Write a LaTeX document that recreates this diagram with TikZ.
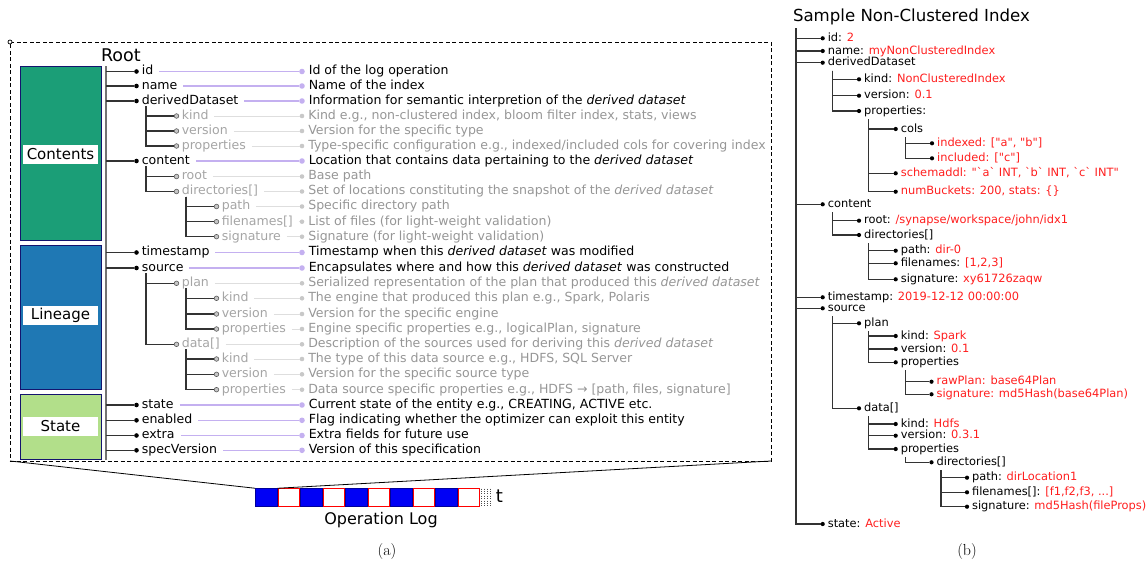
\documentclass[tikz,border=0pt]{standalone}
\usepackage{fontspec}
\newfontfamily\vfont{DejaVu Sans}
\usetikzlibrary{positioning}

\definecolor{contentsgreen}{RGB}{27,158,119}
\definecolor{lineageblue}{RGB}{31,120,180}
\definecolor{stategreen}{RGB}{178,223,138}
\definecolor{boxnavy}{RGB}{20,20,110}
\definecolor{lilac}{RGB}{196,176,240}
\definecolor{keygray}{RGB}{165,165,165}
\definecolor{descgray}{RGB}{150,150,150}
\definecolor{pingray}{RGB}{200,200,200}
\definecolor{linkgray}{RGB}{222,222,222}
\definecolor{valred}{RGB}{255,30,30}
\definecolor{logblue}{RGB}{0,0,245}

% one row of the schema: style prefix (top/sub), name, x, y, key, description
\newcommand{\keyrow}[6]{%
  \node[#1dot] (#2) at (#3,#4) {};
  \node[#1key, right=1pt of #2] (#2-k) {#5};
  \node[#1pin] (#2-p) at (302,#4) {};
  \node[#1desc, right=2pt of #2-p] (#2-t) {#6};
  \draw[#1link] ([xshift=4pt]#2-k.east) -- (#2-p);
}
% one row of the sample: name, x, y, key, value
\newcommand{\valrow}[5]{%
  \node[sdot] (#1) at (#2,#3) {};
  \node[skey, right=1pt of #1] (#1-k) {#4\textcolor{valred}{#5}};
}
% parent -> child elbow
\newcommand{\tbranch}[3]{\draw[treeline] ([xshift=9.5pt,yshift=#3]#1.center) |- (#2);}

\begin{document}
\begin{tikzpicture}[x=1pt, y=-1pt,
    topdot/.style={circle, fill=black, inner sep=0pt, minimum size=4.6pt},
    subdot/.style={circle, fill=gray!45, draw=black!65, line width=0.6pt, inner sep=0pt, minimum size=4.6pt},
    toppin/.style={circle, fill=lilac, inner sep=0pt, minimum size=5.6pt},
    subpin/.style={circle, fill=pingray, inner sep=0pt, minimum size=4.6pt},
    topkey/.style={font=\vfont\fontsize{12.55pt}{14pt}\selectfont, text height=6.8pt, text depth=0pt, inner sep=2pt},
    subkey/.style={topkey, text=keygray},
    topdesc/.style={topkey},
    subdesc/.style={topkey, text=descgray},
    toplink/.style={lilac, line width=1.2pt},
    sublink/.style={linkgray, line width=1pt},
    treeline/.style={black!80, line width=1.2pt},
    trunkline/.style={black!55, line width=2pt},
    sdot/.style={circle, fill=black, inner sep=0pt, minimum size=4.2pt},
    skey/.style={font=\vfont\fontsize{11.4pt}{13pt}\selectfont, text height=6.2pt, text depth=0pt, inner sep=2pt},
    secbox/.style={draw=boxnavy, line width=1pt, minimum width=81pt, inner sep=0pt},
    seclabel/.style={fill=white, minimum width=75pt, minimum height=19pt, inner sep=0pt, font=\vfont\fontsize{15pt}{17pt}\selectfont},
    logused/.style={fill=logblue, draw=blue!60!black, line width=0.6pt, minimum width=22.5pt, minimum height=18.5pt, inner sep=0pt},
    logfree/.style={fill=white, draw=red, line width=1pt, minimum width=21.5pt, minimum height=17.5pt, inner sep=0pt}]
  \tikzstyle{every node}+=[outer sep=0pt]
  \useasboundingbox (0,0) rectangle (1148,565);

  % (a) log entry
  \node[draw, dash pattern=on 4pt off 2.5pt, line width=0.8pt, minimum width=761pt, minimum height=419pt, inner sep=0pt] (entry) at (390.5,251.5) {};
  \node[circle, draw, fill=white, inner sep=0pt, minimum size=4pt, line width=0.7pt] (corner) at (entry.north west) {};
  \node[anchor=west, font=\vfont\fontsize{17.5pt}{20pt}\selectfont, inner sep=2pt] (root) at (99,55) {Root};

  \node[secbox, fill=contentsgreen, minimum height=174pt] (contents) at (60.5,153.7) {};
  \node[secbox, fill=lineageblue, minimum height=144pt] (lineage) at (60.5,317) {};
  \node[secbox, fill=stategreen, minimum height=65pt] (state) at (60.5,426.5) {};
  \node[seclabel] (contents-l) at (60.5,154.5) {Contents};
  \node[seclabel] (lineage-l) at (60.5,315.5) {Lineage};
  \node[seclabel] (state-l) at (60.5,426) {State};

  \keyrow{top}{id}{136.5}{71.5}{id}{Id of the log operation}
  \keyrow{top}{name}{136.5}{86}{name}{Name of the index}
  \keyrow{top}{dd}{136.5}{101}{derivedDataset}{Information for semantic interpretion of the \textit{derived dataset}}
  \keyrow{sub}{ddkind}{176.5}{116}{kind}{Kind e.g., non-clustered index, bloom filter index, stats, views}
  \keyrow{sub}{ddver}{176.5}{131}{version}{Version for the specific type}
  \keyrow{sub}{ddprops}{176.5}{146}{properties}{Type-specific configuration e.g., indexed/included cols for covering index}
  \keyrow{top}{content}{136.5}{161}{content}{Location that contains data pertaining to the \textit{derived dataset}}
  \keyrow{sub}{ctroot}{176.5}{176.5}{root}{Base path}
  \keyrow{sub}{ctdirs}{176.5}{191.5}{directories[]}{Set of locations constituting the snapshot of the \textit{derived dataset}}
  \keyrow{sub}{dirpath}{216.5}{206.5}{path}{Specific directory path}
  \keyrow{sub}{dirfiles}{216.5}{221.7}{filenames[]}{List of files (for light-weight validation)}
  \keyrow{sub}{dirsig}{216.5}{236.7}{signature}{Signature (for light-weight validation)}
  \keyrow{top}{timestamp}{136.5}{252.5}{timestamp}{Timestamp when this \textit{derived dataset} was modified}
  \keyrow{top}{source}{136.5}{268}{source}{Encapsulates where and how this \textit{derived dataset} was constructed}
  \keyrow{sub}{plan}{176.5}{283.3}{plan}{Serialized representation of the plan that produced this \textit{derived dataset}}
  \keyrow{sub}{plankind}{216.5}{298.3}{kind}{The engine that produced this plan e.g., Spark, Polaris}
  \keyrow{sub}{planver}{216.5}{314}{version}{Version for the specific engine}
  \keyrow{sub}{planprops}{216.5}{329}{properties}{Engine specific properties e.g., logicalPlan, signature}
  \keyrow{sub}{data}{176.5}{344.3}{data[]}{Description of the sources used for deriving this \textit{derived dataset}}
  \keyrow{sub}{datakind}{216.5}{359}{kind}{The type of this data source e.g., HDFS, SQL Server}
  \keyrow{sub}{dataver}{216.5}{374.3}{version}{Version for the specific source type}
  \keyrow{sub}{dataprops}{216.5}{389.7}{properties}{Data source specific properties e.g., HDFS → [path, files, signature]}
  \keyrow{top}{state}{136.5}{405}{state}{Current state of the entity e.g., CREATING, ACTIVE etc.}
  \keyrow{top}{enabled}{136.5}{420.3}{enabled}{Flag indicating whether the optimizer can exploit this entity}
  \keyrow{top}{extra}{136.5}{435.5}{extra}{Extra fields for future use}
  \keyrow{top}{specver}{136.5}{450.3}{specVersion}{Version of this specification}

  \coordinate (trunk) at (106,66);
  \draw[trunkline] (trunk) -- (106,460);
  \foreach \n in {id,name,dd,content,timestamp,source,state,enabled,extra,specver}
    \draw[treeline] (trunk |- \n) -- (\n);
  \tbranch{dd}{ddkind}{-5pt}
  \tbranch{dd}{ddver}{-5pt}
  \tbranch{dd}{ddprops}{-5pt}
  \tbranch{content}{ctroot}{-5pt}
  \tbranch{content}{ctdirs}{-5pt}
  \tbranch{ctdirs}{dirpath}{-5pt}
  \tbranch{ctdirs}{dirfiles}{-5pt}
  \tbranch{ctdirs}{dirsig}{-5pt}
  \tbranch{source}{plan}{-5pt}
  \tbranch{source}{data}{-5pt}
  \tbranch{plan}{plankind}{-5pt}
  \tbranch{plan}{planver}{-5pt}
  \tbranch{plan}{planprops}{-5pt}
  \tbranch{data}{datakind}{-5pt}
  \tbranch{data}{dataver}{-5pt}
  \tbranch{data}{dataprops}{-5pt}

  % operation log
  \foreach \i in {0,...,9}{
    \ifodd\i
      \node[logfree] (log-\i) at ({266.25+22.5*\i},497.5) {};
    \else
      \node[logused] (log-\i) at ({266.25+22.5*\i},497.5) {};
    \fi
  }
  \foreach \x in {481.5,484.5,487.5,490}
    \draw[black!70, line width=0.8pt, dash pattern=on 0.8pt off 1.6pt] (\x,488.5) -- (\x,507);
  \node[font=\vfont\fontsize{18pt}{20pt}\selectfont, inner sep=0pt] (tick) at (499.5,496) {t};
  \draw[line width=0.8pt] (entry.south west) -- (log-0.north west);
  \draw[line width=0.8pt] (entry.south east) -- (log-0.north east);
  \node[font=\vfont\fontsize{16pt}{18pt}\selectfont] (oplog) at (381,520) {Operation Log};
  \node[font=\fontsize{16pt}{18pt}\selectfont] (capa) at (387,551) {(a)};

  % (b) sample non-clustered index
  \node[anchor=west, font=\vfont\fontsize{16.6pt}{19pt}\selectfont, inner sep=2pt] (rtitle) at (791,17) {Sample Non-Clustered Index};
  \valrow{rid}{822.7}{38.3}{id: }{2}
  \valrow{rname}{822.7}{51}{name: }{myNonClusteredIndex}
  \valrow{rdd}{822.7}{62.7}{derivedDataset}{}
  \valrow{rkind}{859}{79.3}{kind: }{NonClusteredIndex}
  \valrow{rver}{859}{95.7}{version: }{0.1}
  \valrow{rprops}{859}{111}{properties:}{}
  \valrow{rcols}{895.7}{129}{cols}{}
  \valrow{rindexed}{932}{143.3}{}{indexed: ["a", "b"]}
  \valrow{rincluded}{932}{158.3}{}{included: ["c"]}
  \valrow{rschema}{895.7}{173.3}{}{schemaddl: "`a` INT, `b` INT, `c` INT"}
  \valrow{rbuckets}{895.7}{191.7}{}{numBuckets: 200, stats: \{\}}
  \valrow{rcontent}{822.7}{204.3}{content}{}
  \valrow{rroot}{859}{220.7}{root: }{/synapse/workspace/john/idx1}
  \valrow{rdirs}{859}{235}{directories[]}{}
  \valrow{rpath}{895.7}{250.7}{path: }{dir-0}
  \valrow{rfiles}{895.7}{263.3}{filenames: }{[1,2,3]}
  \valrow{rsig}{895.7}{279.3}{signature: }{xy61726zaqw}
  \valrow{rtime}{822.7}{297.3}{timestamp: }{2019-12-12 00:00:00}
  \valrow{rsource}{822.7}{308.3}{source}{}
  \valrow{rplan}{859}{323.3}{plan}{}
  \valrow{rpkind}{895.7}{336}{kind: }{Spark}
  \valrow{rpver}{895.7}{349}{version: }{0.1}
  \valrow{rpprops}{895.7}{362.3}{properties}{}
  \valrow{rraw}{931.5}{381.7}{}{rawPlan: base64Plan}
  \valrow{rpsig}{931.5}{394.3}{}{signature: md5Hash(base64Plan)}
  \valrow{rdata}{859}{408.3}{data[]}{}
  \valrow{rdkind}{895.7}{424}{kind: }{Hdfs}
  \valrow{rdver}{895.7}{435.7}{version: }{0.3.1}
  \valrow{rdprops}{895.7}{449}{properties}{}
  \valrow{rddirs}{931.5}{462.3}{directories[]}{}
  \valrow{rdpath}{967}{477.7}{path: }{dirLocation1}
  \valrow{rdfiles}{967}{492.3}{filenames[]: }{[f1,f2,f3, ...]}
  \valrow{rdsig}{967}{506.7}{signature: }{md5Hash(fileProps)}
  \valrow{rstate}{822.7}{524}{state: }{Active}

  \coordinate (rtrunk) at (796,28);
  \draw[treeline] (rtrunk) |- (rstate);
  \foreach \n in {rid,rname,rdd,rcontent,rtime,rsource}
    \draw[treeline] (rtrunk |- \n) -- (\n);
  \tbranch{rdd}{rkind}{-8pt}
  \tbranch{rdd}{rver}{-8pt}
  \tbranch{rdd}{rprops}{-8pt}
  \tbranch{rprops}{rcols}{-8pt}
  \tbranch{rprops}{rschema}{-8pt}
  \tbranch{rprops}{rbuckets}{-8pt}
  \tbranch{rcols}{rindexed}{-8pt}
  \tbranch{rcols}{rincluded}{-8pt}
  \tbranch{rcontent}{rroot}{-8pt}
  \tbranch{rcontent}{rdirs}{-8pt}
  \tbranch{rdirs}{rpath}{-8pt}
  \tbranch{rdirs}{rfiles}{-8pt}
  \tbranch{rdirs}{rsig}{-8pt}
  \tbranch{rsource}{rplan}{-8pt}
  \tbranch{rsource}{rdata}{-8pt}
  \tbranch{rplan}{rpkind}{-8pt}
  \tbranch{rplan}{rpver}{-8pt}
  \tbranch{rplan}{rpprops}{-8pt}
  \tbranch{rpprops}{rraw}{-8pt}
  \tbranch{rpprops}{rpsig}{-8pt}
  \tbranch{rdata}{rdkind}{-8pt}
  \tbranch{rdata}{rdver}{-8pt}
  \tbranch{rdata}{rdprops}{-8pt}
  \tbranch{rdprops}{rddirs}{-8pt}
  \tbranch{rddirs}{rdpath}{-8pt}
  \tbranch{rddirs}{rdfiles}{-8pt}
  \tbranch{rddirs}{rdsig}{-8pt}
  \node[font=\fontsize{16pt}{18pt}\selectfont] (capb) at (967,551) {(b)};
\end{tikzpicture}
\end{document}
